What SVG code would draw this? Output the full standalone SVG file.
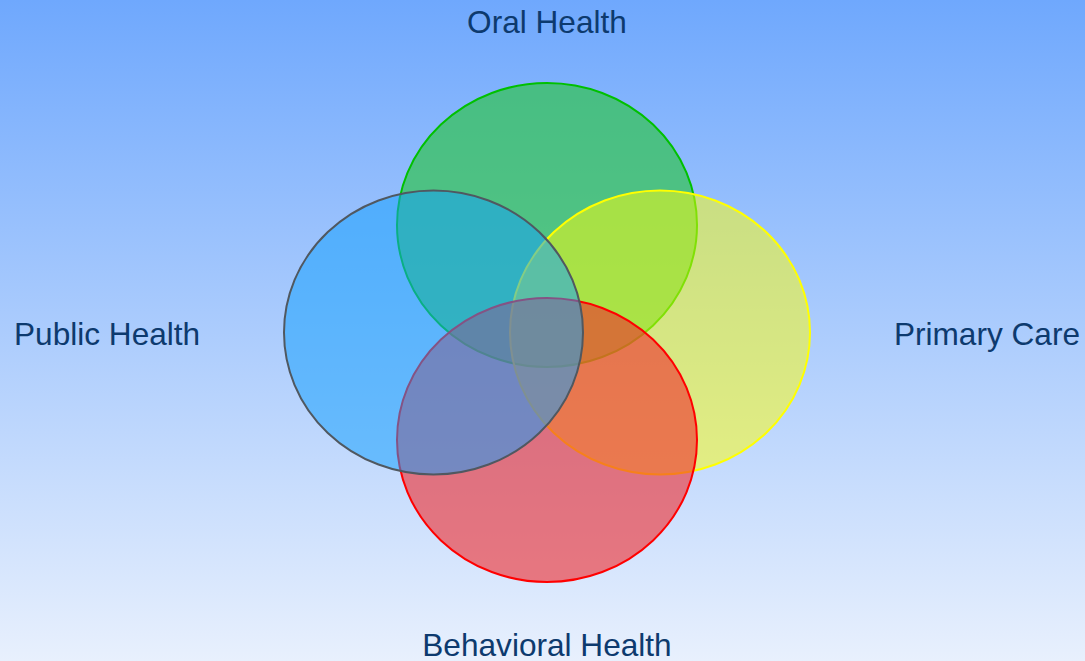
<svg xmlns="http://www.w3.org/2000/svg" width="1085" height="661" viewBox="0 0 1085 661">
<defs>
<linearGradient id="bg" x1="0" y1="0" x2="0" y2="1">
<stop offset="0" stop-color="#6fa8fd"/>
<stop offset="1" stop-color="#e8f0fd"/>
</linearGradient>
</defs>
<style>
.lbl{font-family:"Liberation Sans",Arial,sans-serif;font-size:31.6px;fill:#0d3a6e}
.c{stroke-width:2}
</style>
<rect width="1085" height="661" fill="url(#bg)"/>
<g id="oral"><ellipse class="c" cx="547" cy="225" rx="150" ry="142" fill="#31c34f" fill-opacity="0.7" stroke="#00c000"/></g>
<g id="primary"><ellipse class="c" cx="660" cy="332.5" rx="150" ry="142" fill="#ffff0a" fill-opacity="0.5" stroke="#ffff00"/></g>
<g id="behavioral"><ellipse class="c" cx="547" cy="440" rx="150" ry="142" fill="#f02b2d" fill-opacity="0.6" stroke="#ff0000"/></g>
<g id="public"><ellipse class="c" cx="433.5" cy="332.5" rx="149.5" ry="142" fill="#14a0fd" fill-opacity="0.52" stroke="#505860"/></g>
<g id="labels">
<text class="lbl" x="547" y="33" text-anchor="middle">Oral Health</text>
<text class="lbl" x="14" y="345">Public Health</text>
<text class="lbl" x="1080" y="345" text-anchor="end">Primary Care</text>
<text class="lbl" x="547" y="656" text-anchor="middle">Behavioral Health</text>
</g>
<g id="connectors"/>
</svg>
